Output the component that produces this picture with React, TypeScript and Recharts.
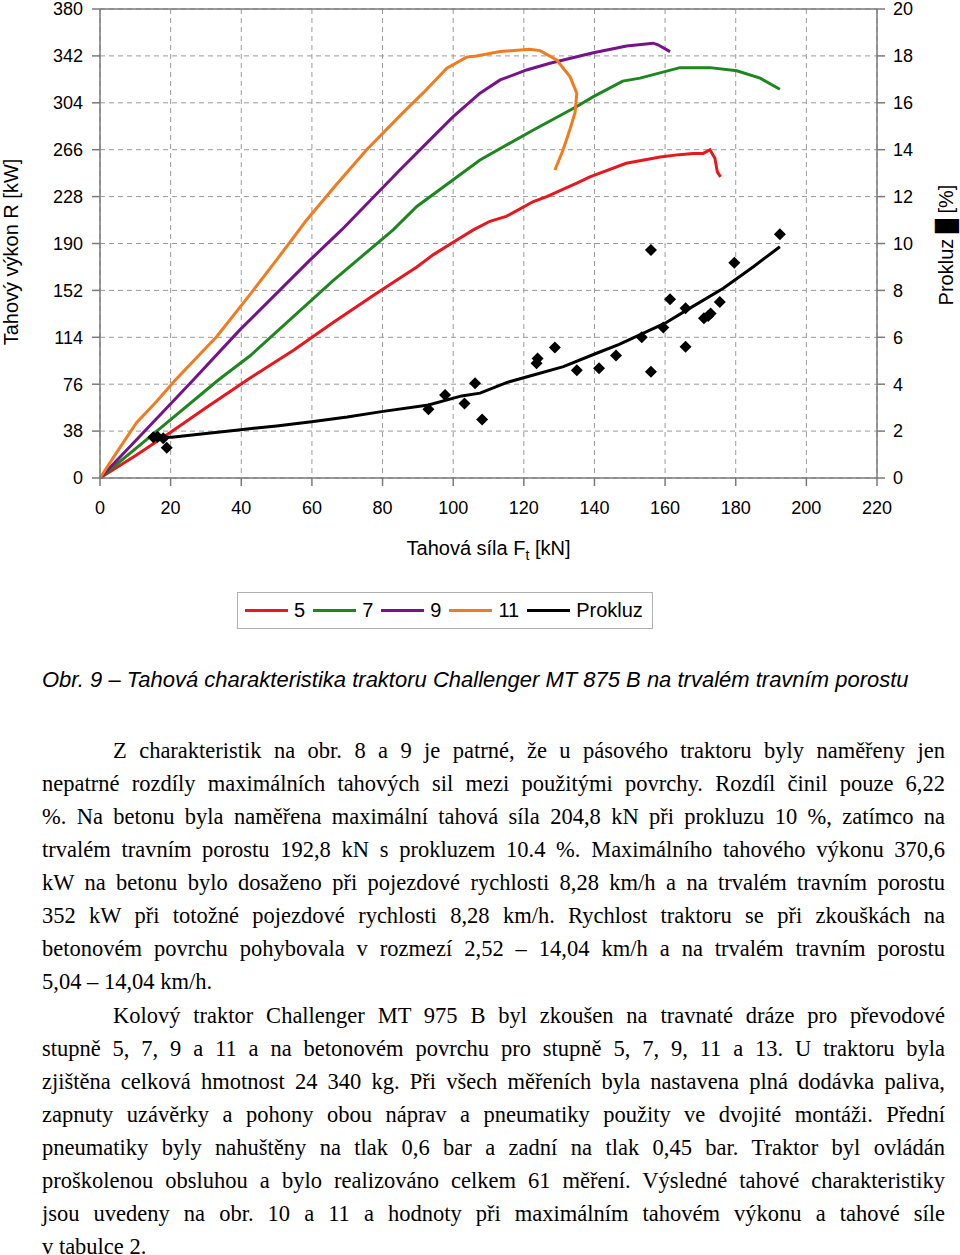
import React from "react";
import {
  ComposedChart,
  Line,
  Scatter,
  XAxis,
  YAxis,
  CartesianGrid,
  ReferenceLine,
  Label,
} from "recharts";

const forceTicks = [0, 20, 40, 60, 80, 100, 120, 140, 160, 180, 200, 220];
const powerTicks = [0, 38, 76, 114, 152, 190, 228, 266, 304, 342, 380];
const slipTicks = [0, 2, 4, 6, 8, 10, 12, 14, 16, 18, 20];

// gear 5
const gear5Force = [0, 10, 20, 30, 42.5, 55, 66, 78, 89.7, 94.4, 100, 105.7, 110.4, 115, 117, 122.7, 126.5, 135, 138.7, 149, 158.6, 164, 168, 170.8, 172.7, 174.1, 174.8, 175.7];
const gear5Power = [0, 18, 37, 57, 81, 104, 126, 149, 171, 181, 191, 201, 208, 212, 215, 224, 228, 239, 244, 255, 260, 262, 263, 263, 266, 259, 248, 244];

// gear 7
const gear7Force = [0, 14.2, 33.5, 42.5, 66, 83, 89.7, 107.6, 122.7, 135, 139.7, 148, 152.9, 164.2, 172.7, 180.3, 186.9, 192.5];
const gear7Power = [0, 33.5, 79.4, 99, 160, 201, 220, 257.7, 282, 301, 309, 321.6, 324, 332.5, 332.5, 330, 324, 315];

// gear 9
const gear9Force = [0, 10, 26.4, 39.6, 59.5, 68.4, 84.9, 91.5, 100, 107.6, 113.3, 120.8, 127.4, 139.7, 149.1, 156.6, 158, 161.4];
const gear9Power = [0, 30, 79.4, 120, 176.7, 201, 249.6, 268.5, 292.8, 311.8, 322.5, 330.6, 336, 344.5, 350, 352.3, 351, 345.5];

// gear 11
const gear11Force = [0, 5, 10.4, 16, 21.2, 33, 42, 50, 58.5, 67, 75.5, 85.8, 91.5, 98.2, 103.8, 106.6, 113.3, 121.7, 124.6, 129.3, 133.1, 135, 134.5, 133, 131.1, 128.8];
const gear11Power = [0, 22, 45, 62, 79, 114.5, 147, 176.7, 209, 238, 266, 296, 312, 332, 341, 342, 345.5, 347.4, 346.3, 338.7, 325, 311.7, 296, 282, 265.8, 249.6];

// prokluz trend [%]
const slipForce = [15.6, 20.3, 30, 39.2, 50, 59.9, 70, 79.7, 93, 102.4, 107.6, 115.1, 123, 131.2, 140.6, 147, 154.8, 160, 166.1, 176.5, 185, 192.5];
const slipTrend = [1.74, 1.74, 1.9, 2.05, 2.22, 2.4, 2.6, 2.83, 3.11, 3.5, 3.62, 4.07, 4.4, 4.75, 5.32, 5.7, 6.24, 6.6, 7.16, 8.09, 9.01, 9.86];

// measured prokluz points [%]
const measuredForce = [15.1, 16.3, 17.9, 18.9, 93, 97.7, 103.2, 106.2, 108.2, 123.6, 123.9, 128.8, 135, 141.3, 146.1, 153.4, 156, 156, 159.5, 161.4, 165.8, 165.8, 171, 172.2, 172.9, 175.5, 179.6, 192.5];
const measuredSlip = [1.74, 1.76, 1.69, 1.29, 2.93, 3.54, 3.18, 4.04, 2.5, 4.89, 5.1, 5.56, 4.6, 4.68, 5.22, 6.0, 9.72, 4.53, 6.42, 7.62, 7.24, 5.6, 6.81, 6.91, 7.02, 7.51, 9.18, 10.39];

const zip = (xs: number[], ys: number[]) => xs.map((x, i) => ({ x, y: ys[i] }));

const series = [
  { name: "5", color: "#e8161d", data: zip(gear5Force, gear5Power), axis: "power" },
  { name: "7", color: "#1e861e", data: zip(gear7Force, gear7Power), axis: "power" },
  { name: "9", color: "#77138a", data: zip(gear9Force, gear9Power), axis: "power" },
  { name: "11", color: "#f27b1f", data: zip(gear11Force, gear11Power), axis: "power" },
  { name: "Prokluz", color: "#000000", data: zip(slipForce, slipTrend), axis: "slip" },
];
const measured = zip(measuredForce, measuredSlip);

const para1 = [
  "Z charakteristik na obr. 8 a 9 je patrné, že u pásového traktoru byly naměřeny jen",
  "nepatrné rozdíly maximálních tahových sil mezi použitými povrchy. Rozdíl činil pouze 6,22",
  "%. Na betonu byla naměřena  maximální tahová síla 204,8 kN při prokluzu 10 %, zatímco na",
  "trvalém travním porostu 192,8 kN s prokluzem 10.4 %. Maximálního tahového výkonu 370,6",
  "kW na betonu bylo dosaženo při pojezdové rychlosti 8,28 km/h a na trvalém travním porostu",
  "352 kW při totožné pojezdové rychlosti 8,28 km/h. Rychlost traktoru se při zkouškách na",
  "betonovém povrchu pohybovala v rozmezí 2,52 – 14,04 km/h a na trvalém travním porostu",
  "5,04 – 14,04 km/h.",
];
const para2 = [
  "Kolový traktor Challenger MT 975 B byl zkoušen na travnaté dráze pro převodové",
  "stupně 5, 7, 9 a 11 a na betonovém povrchu pro stupně 5, 7, 9, 11 a 13. U traktoru byla",
  "zjištěna celková hmotnost 24 340 kg. Při všech měřeních byla nastavena plná dodávka paliva,",
  "zapnuty uzávěrky a pohony obou náprav a pneumatiky použity ve dvojité montáži. Přední",
  "pneumatiky byly nahuštěny na tlak 0,6 bar a zadní na tlak 0,45 bar. Traktor byl ovládán",
  "proškolenou obsluhou a bylo realizováno celkem 61 měření. Výsledné tahové charakteristiky",
  "jsou uvedeny na obr. 10 a 11 a hodnoty při maximálním tahovém výkonu a tahové síle",
  "v tabulce 2.",
];

const SANS = "'Liberation Sans', Arial, sans-serif";
const SERIF = "'Liberation Serif', 'Times New Roman', serif";
const AXIS = "#7a7a7a";
const tick = { fill: "#000", fontSize: 18, fontFamily: SANS };

function Diamond(props: any) {
  const { cx, cy } = props;
  const r = 6;
  return (
    <polygon
      points={`${cx},${cy - r} ${cx + r},${cy} ${cx},${cy + r} ${cx - r},${cy}`}
      fill="#000"
    />
  );
}

function Paragraph({ lines, top }: { lines: string[]; top: number }) {
  return (
    <>
      {lines.map((l, i) => (
        <div
          key={i}
          style={{
            position: "absolute",
            left: i === 0 ? 113 : 42,
            top: top + i * 33,
            width: i === 0 ? 832 : 903,
            height: 33,
            lineHeight: "33px",
            fontFamily: SERIF,
            fontSize: 22.5,
            color: "#000",
            textAlign: "justify",
            textAlignLast: i === lines.length - 1 ? "left" : "justify",
          }}
        >
          {l}
        </div>
      ))}
    </>
  );
}

export default function App() {
  return (
    <div
      style={{
        position: "absolute",
        left: 0,
        top: 0,
        width: 960,
        height: 1255,
        background: "#fff",
        overflow: "hidden",
      }}
    >
      <div style={{ position: "absolute", left: 0, top: 0 }}>
        <ComposedChart
          width={960}
          height={600}
          margin={{ top: 9, right: 0, bottom: 40, left: 0 }}
        >
          <CartesianGrid
            yAxisId="power"
            stroke="#9a9a9a"
            strokeDasharray="5 4"
            strokeWidth={1}
          />
          <XAxis
            type="number"
            dataKey="x"
            domain={[0, 220]}
            ticks={forceTicks}
            interval={0}
            height={82}
            tick={tick}
            tickSize={8}
            tickMargin={15}
            stroke={AXIS}
            strokeWidth={1.5}
          >
            <Label
              content={({ viewBox }: any) => (
                <text
                  x={viewBox.x + viewBox.width / 2}
                  y={viewBox.y + 77}
                  textAnchor="middle"
                  fontSize={20}
                  fontFamily={SANS}
                  fill="#000"
                >
                  Tahová síla F
                  <tspan dy={5} fontSize={14}>t</tspan>
                  <tspan dy={-5}> [kN]</tspan>
                </text>
              )}
            />
          </XAxis>
          <YAxis
            yAxisId="power"
            orientation="left"
            type="number"
            domain={[0, 380]}
            ticks={powerTicks}
            interval={0}
            width={100}
            tick={tick}
            tickSize={8}
            tickMargin={9}
            stroke={AXIS}
            strokeWidth={1.5}
          >
            <Label
              content={() => (
                <text
                  x={18}
                  y={252}
                  transform="rotate(-90, 18, 252)"
                  textAnchor="middle"
                  fontSize={20}
                  fontFamily={SANS}
                  fill="#000"
                >
                  Tahový výkon R [kW]
                </text>
              )}
            />
          </YAxis>
          <YAxis
            yAxisId="slip"
            orientation="right"
            type="number"
            domain={[0, 20]}
            ticks={slipTicks}
            interval={0}
            width={83}
            tick={tick}
            tickSize={8}
            tickMargin={8}
            stroke={AXIS}
            strokeWidth={1.5}
          >
            <Label
              content={() => (
                <text
                  x={953}
                  y={245}
                  transform="rotate(-90, 953, 245)"
                  textAnchor="middle"
                  fontSize={20}
                  fontFamily={SANS}
                  fill="#000"
                >
                  Prokluz █ [%]
                </text>
              )}
            />
          </YAxis>
          <ReferenceLine yAxisId="power" y={380} stroke={AXIS} strokeWidth={1.5} />
          {series.map((s) => (
            <Line
              key={s.name}
              yAxisId={s.axis}
              data={s.data}
              dataKey="y"
              name={s.name}
              type="linear"
              stroke={s.color}
              strokeWidth={3}
              dot={false}
              isAnimationActive={false}
            />
          ))}
          <Scatter
            yAxisId="slip"
            data={measured}
            dataKey="y"
            shape={Diamond}
            isAnimationActive={false}
          />
        </ComposedChart>
      </div>

      <div
        style={{
          position: "absolute",
          left: 237,
          top: 592,
          height: 35,
          border: "1px solid #b0b0b0",
          display: "flex",
          alignItems: "center",
          paddingLeft: 7,
          paddingRight: 9,
          fontFamily: SANS,
          fontSize: 20,
          color: "#000",
        }}
      >
        {series.map((s) => (
          <div key={s.name} style={{ display: "flex", alignItems: "center", marginRight: s.name === "Prokluz" ? 0 : 8 }}>
            <div style={{ width: 43, height: 3, background: s.color, marginRight: 6 }} />
            <span>{s.name}</span>
          </div>
        ))}
      </div>

      <div
        style={{
          position: "absolute",
          left: 42,
          top: 667,
          lineHeight: "26px",
          fontFamily: SANS,
          fontStyle: "italic",
          fontSize: 22,
          color: "#000",
          whiteSpace: "nowrap",
        }}
      >
        Obr. 9 – Tahová charakteristika traktoru Challenger MT 875 B na trvalém travním porostu
      </div>

      <Paragraph lines={para1} top={734} />
      <Paragraph lines={para2} top={999} />
    </div>
  );
}
